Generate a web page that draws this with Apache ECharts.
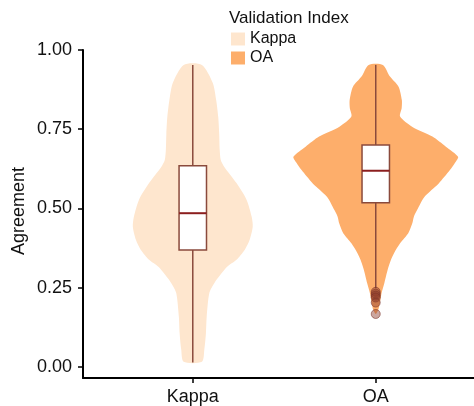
<!DOCTYPE html>
<html>
<head>
<meta charset="utf-8">
<script src="https://cdn.jsdelivr.net/npm/echarts@6/dist/echarts.min.js"></script>
<style>html,body{margin:0;padding:0;background:#fff;}#chart{width:474px;height:406px;}</style>
</head>
<body>
<div id="chart"></div>
<script>
// ---- data ----
const categories = ['Kappa', 'OA'];
const yTicks = [0, 0.25, 0.5, 0.75, 1.0];

// violin profiles: agreement value and relative density (widest violin = 1)
const kappaY = [0.953, 0.896, 0.842, 0.789, 0.735, 0.685, 0.653, 0.631, 0.580, 0.527, 0.473, 0.442, 0.401, 0.369, 0.338, 0.315, 0.265, 0.233, 0.158, 0.107, 0.054, 0.016];
const kappaDensity = [0.111, 0.243, 0.284, 0.309, 0.321, 0.327, 0.340, 0.383, 0.531, 0.654, 0.716, 0.728, 0.691, 0.630, 0.531, 0.414, 0.263, 0.201, 0.169, 0.160, 0.140, 0.111];

const oaY = [0.953, 0.916, 0.884, 0.842, 0.817, 0.790, 0.758, 0.727, 0.695, 0.663, 0.644, 0.621, 0.579, 0.537, 0.495, 0.474, 0.453, 0.422, 0.390, 0.359, 0.338, 0.306, 0.264, 0.232, 0.201, 0.180, 0.168];
const oaDensity = [0.086, 0.173, 0.277, 0.317, 0.315, 0.296, 0.441, 0.688, 0.852, 1.000, 0.963, 0.901, 0.765, 0.593, 0.502, 0.463, 0.444, 0.395, 0.296, 0.222, 0.185, 0.144, 0.104, 0.070, 0.049, 0.031, 0.006];

// box stats: [lower whisker, Q1, median, Q3, upper whisker]
const kappaBox = [0.014, 0.369, 0.485, 0.635, 0.953];
const oaBox = [0.248, 0.518, 0.619, 0.700, 0.953];
const oaOutliers = [0.237, 0.231, 0.225, 0.219, 0.203, 0.167];

// ---- styles ----
const COLORS = ['#FEE6CE', '#FDAE6B'];
const VIOLIN_HALF = 0.45;
const BOX_W = 0.15;
const LINE_COLOR = '#8a4a3c';
const MEDIAN_COLOR = '#8b1e1e';
const FONT = '"Liberation Sans", Arial, sans-serif';

const chart = echarts.init(document.getElementById('chart'), null, {renderer: 'canvas'});

function violinSeries(name, idx, ys, ds) {
  return {
    name: name,
    type: 'custom',
    itemStyle: {color: COLORS[idx]},
    data: [[idx + 1, ys[0]]],
    renderItem: function (params, api) {
      const xc = idx + 1;
      const pts = [];
      for (let i = 0; i < ys.length; i++) pts.push(api.coord([xc + VIOLIN_HALF * ds[i], ys[i]]));
      for (let i = ys.length - 1; i >= 0; i--) pts.push(api.coord([xc - VIOLIN_HALF * ds[i], ys[i]]));
      return {type: 'polygon', shape: {points: pts, smooth: 0.25}, style: {fill: COLORS[idx], stroke: null}};
    },
    z: 1
  };
}

const boxData = [[1].concat(kappaBox), [2].concat(oaBox)];

chart.setOption({
  animation: false,
  grid: {left: 83, right: 0, top: 50, bottom: 28, containLabel: false},
  legend: {
    orient: 'vertical', left: 231, top: 31, padding: 0,
    itemWidth: 14, itemHeight: 13, itemGap: 3,
    textStyle: {fontSize: 16, color: '#111', fontFamily: FONT},
    data: [{name: 'Kappa', icon: 'rect'}, {name: 'OA', icon: 'rect'}],
    selectedMode: false
  },
  graphic: [
    {type: 'text', left: 229, top: 10, style: {text: 'Validation Index', fontSize: 17, fill: '#111', fontFamily: FONT}},
    {type: 'text', x: 19, y: 211, rotation: Math.PI / 2, style: {text: 'Agreement', fontSize: 18, fill: '#111', fontFamily: FONT, align: 'center', verticalAlign: 'middle'}}
  ],
  xAxis: {
    type: 'value', min: 0.4, max: 2.537,
    splitLine: {show: false},
    axisLine: {onZero: false, lineStyle: {color: '#000', width: 2}},
    axisTick: {customValues: [1, 2], length: 5, lineStyle: {color: '#000', width: 1.5}},
    axisLabel: {customValues: [1, 2], formatter: v => categories[Math.round(v) - 1] || '', fontSize: 18, color: '#111', fontFamily: FONT, margin: 10}
  },
  yAxis: {
    type: 'value', min: -0.035, max: 1.0,
    splitLine: {show: false},
    axisLine: {show: true, onZero: false, lineStyle: {color: '#000', width: 2}},
    axisTick: {show: true, customValues: yTicks, length: 5, lineStyle: {color: '#000', width: 1.5}},
    axisLabel: {customValues: yTicks, formatter: v => v.toFixed(2), fontSize: 18, color: '#111', fontFamily: FONT, margin: 11}
  },
  series: [
    violinSeries('Kappa', 0, kappaY, kappaDensity),
    violinSeries('OA', 1, oaY, oaDensity),
    {
      type: 'custom',
      data: boxData,
      z: 3,
      renderItem: function (params, api) {
        const x = api.value(0);
        const lo = api.coord([x, api.value(1)]);
        const hi = api.coord([x, api.value(5)]);
        const tl = api.coord([x - BOX_W / 2, api.value(4)]);
        const br = api.coord([x + BOX_W / 2, api.value(2)]);
        const ml = api.coord([x - BOX_W / 2, api.value(3)]);
        const mr = api.coord([x + BOX_W / 2, api.value(3)]);
        return {
          type: 'group',
          children: [
            {type: 'line', shape: {x1: lo[0], y1: lo[1], x2: hi[0], y2: hi[1]}, style: {stroke: LINE_COLOR, lineWidth: 1.5}},
            {type: 'rect', shape: {x: tl[0], y: tl[1], width: br[0] - tl[0], height: br[1] - tl[1]}, style: {fill: '#fff', stroke: LINE_COLOR, lineWidth: 1.5}},
            {type: 'line', shape: {x1: ml[0], y1: ml[1], x2: mr[0], y2: mr[1]}, style: {stroke: MEDIAN_COLOR, lineWidth: 2}}
          ]
        };
      }
    },
    {
      type: 'scatter',
      z: 4,
      symbolSize: 9,
      data: oaOutliers.map(v => [2, v]),
      itemStyle: {color: 'rgba(139,58,42,0.45)', borderColor: 'rgba(120,50,40,0.55)', borderWidth: 1, opacity: 1}
    }
  ]
});
</script>
</body>
</html>
